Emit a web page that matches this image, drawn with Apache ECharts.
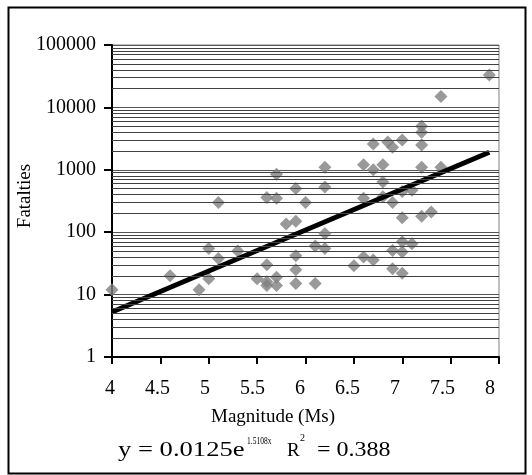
<!DOCTYPE html>
<html>
<head>
<meta charset="utf-8">
<script src="https://cdn.jsdelivr.net/npm/echarts@6/dist/echarts.min.js"></script>
<style>html,body{margin:0;padding:0;background:#fff;}#c{width:532px;height:475px;}</style>
</head>
<body>
<div id="c"></div>
<script>
// Data
var magnitude = [4.0,4.6,4.9,5.0,5.0,5.1,5.1,5.3,5.5,5.6,5.6,5.6,5.6,5.7,5.7,5.7,5.7,5.8,5.9,5.9,5.9,5.9,5.9,6.0,6.1,6.1,6.2,6.2,6.2,6.2,6.5,6.6,6.6,6.6,6.7,6.7,6.7,6.8,6.8,6.8,6.85,6.9,6.9,6.9,6.9,7.0,7.0,7.0,7.0,7.0,7.0,7.1,7.1,7.2,7.2,7.2,7.2,7.2,7.3,7.4,7.4,7.9];
var fatalities = [12,20,12,18,55,38,300,50,18,30,16,14,360,19,14,350,850,135,150,500,42,25,15,300,15,60,55,95,530,1100,29,40,350,1200,36,1000,2600,370,640,1200,2800,2300,300,51,26,3000,450,170,70,48,22,470,65,5000,4000,2500,1100,180,210,15000,1100,33000];
var xTicks = [4,4.5,5,5.5,6,6.5,7,7.5,8];
var yTicks = [1,10,100,1000,10000,100000];
// Exponential trend: y = a * e^(b x)
var trendA = 0.0125, trendB = 1.5108, trendRange = [4.0, 7.9];

var minorValues = [];
for (var d = 1; d < 100000; d *= 10) {
  for (var k = 2; k <= 9; k++) minorValues.push({yAxis: k * d});
}
var trendData = trendRange.map(function (x) { return [x, trendA * Math.exp(trendB * x)]; });
var scatterData = magnitude.map(function (m, i) { return [m, fatalities[i]]; });

var FONT = 'Liberation Serif';
function txt(x, y, s, size, sx) {
  return {type: 'text', x: x, y: y, scaleX: sx || 1, silent: true,
    style: {text: s, fontFamily: FONT, fontSize: size, fill: '#000', textAlign: 'left', textVerticalAlign: 'middle'}};
}
var chart = echarts.init(document.getElementById('c'), null, {renderer: 'canvas'});
chart.setOption({
  animation: false,
  backgroundColor: '#fff',
  grid: [
    {left: 112, right: 33, top: 45, bottom: 118, show: true, borderColor: '#808080', borderWidth: 1, backgroundColor: 'transparent'},
    {left: 110, right: 42, top: 45, bottom: 118, show: false}
  ],
  xAxis: [
    {type: 'value', gridIndex: 0, min: 4, max: 8, interval: 0.5,
     axisLine: {show: true, onZero: false, lineStyle: {color: '#000', width: 2}},
     axisTick: {show: true, length: 7, lineStyle: {color: '#000', width: 2}},
     axisLabel: {show: false}, splitLine: {show: false}},
    {type: 'value', gridIndex: 1, min: 4, max: 8, interval: 0.5,
     axisLine: {show: false}, axisTick: {show: false}, splitLine: {show: false},
     axisLabel: {show: true, margin: 22, color: '#000', fontFamily: FONT, fontSize: 20,
       formatter: function (v) { return xTicks.indexOf(v) >= 0 ? String(v) : ''; }}}
  ],
  yAxis: [
    {type: 'log', gridIndex: 0, logBase: 10, min: yTicks[0], max: yTicks[yTicks.length - 1],
     axisLine: {show: true, onZero: false, lineStyle: {color: '#000', width: 2}},
     axisTick: {show: true, length: 8, lineStyle: {color: '#000', width: 2}},
     axisLabel: {show: true, margin: 16, color: '#000', fontFamily: FONT, fontSize: 20,
       formatter: function (v) { return String(v); }},
     splitLine: {show: true, lineStyle: {color: '#555', width: 1}}},
    {type: 'value', gridIndex: 1, show: false, min: 0, max: 1}
  ],
  series: [
    {type: 'line', xAxisIndex: 0, yAxisIndex: 0, data: [], silent: true,
     markLine: {silent: true, symbol: 'none', label: {show: false}, animation: false,
       lineStyle: {color: '#404040', width: 1, type: 'solid'}, emphasis: {disabled: true},
       data: minorValues}},
    {type: 'scatter', xAxisIndex: 0, yAxisIndex: 0, data: scatterData,
     symbol: 'diamond', symbolSize: 13, itemStyle: {color: '#808080'}},
    {type: 'line', xAxisIndex: 0, yAxisIndex: 0, data: trendData, symbol: 'none',
     lineStyle: {color: '#000', width: 5}}
  ],
  graphic: [
    {type: 'rect', left: 6, top: 5, shape: {x: 0, y: 0, width: 517, height: 466},
     style: {fill: 'none', stroke: '#000', lineWidth: 2}, silent: true},
    {type: 'text', x: 25, y: 196, rotation: Math.PI / 2, silent: true,
     style: {text: 'Fatalties', fontFamily: FONT, fontSize: 19, fill: '#000', textAlign: 'center', textVerticalAlign: 'middle'}},
    {type: 'text', x: 273, y: 417, silent: true,
     style: {text: 'Magnitude (Ms)', fontFamily: FONT, fontSize: 19, fill: '#000', textAlign: 'center', textVerticalAlign: 'middle'}},
    txt(118, 451, 'y = 0.0125e', 20, 1.33),
    txt(247, 441, '1.5108x', 10, 0.75),
    txt(287, 451, 'R', 19, 1),
    txt(300, 438, '2', 10, 1),
    txt(317, 451, '= 0.388', 20, 1.2)
  ]
});
</script>
</body>
</html>
